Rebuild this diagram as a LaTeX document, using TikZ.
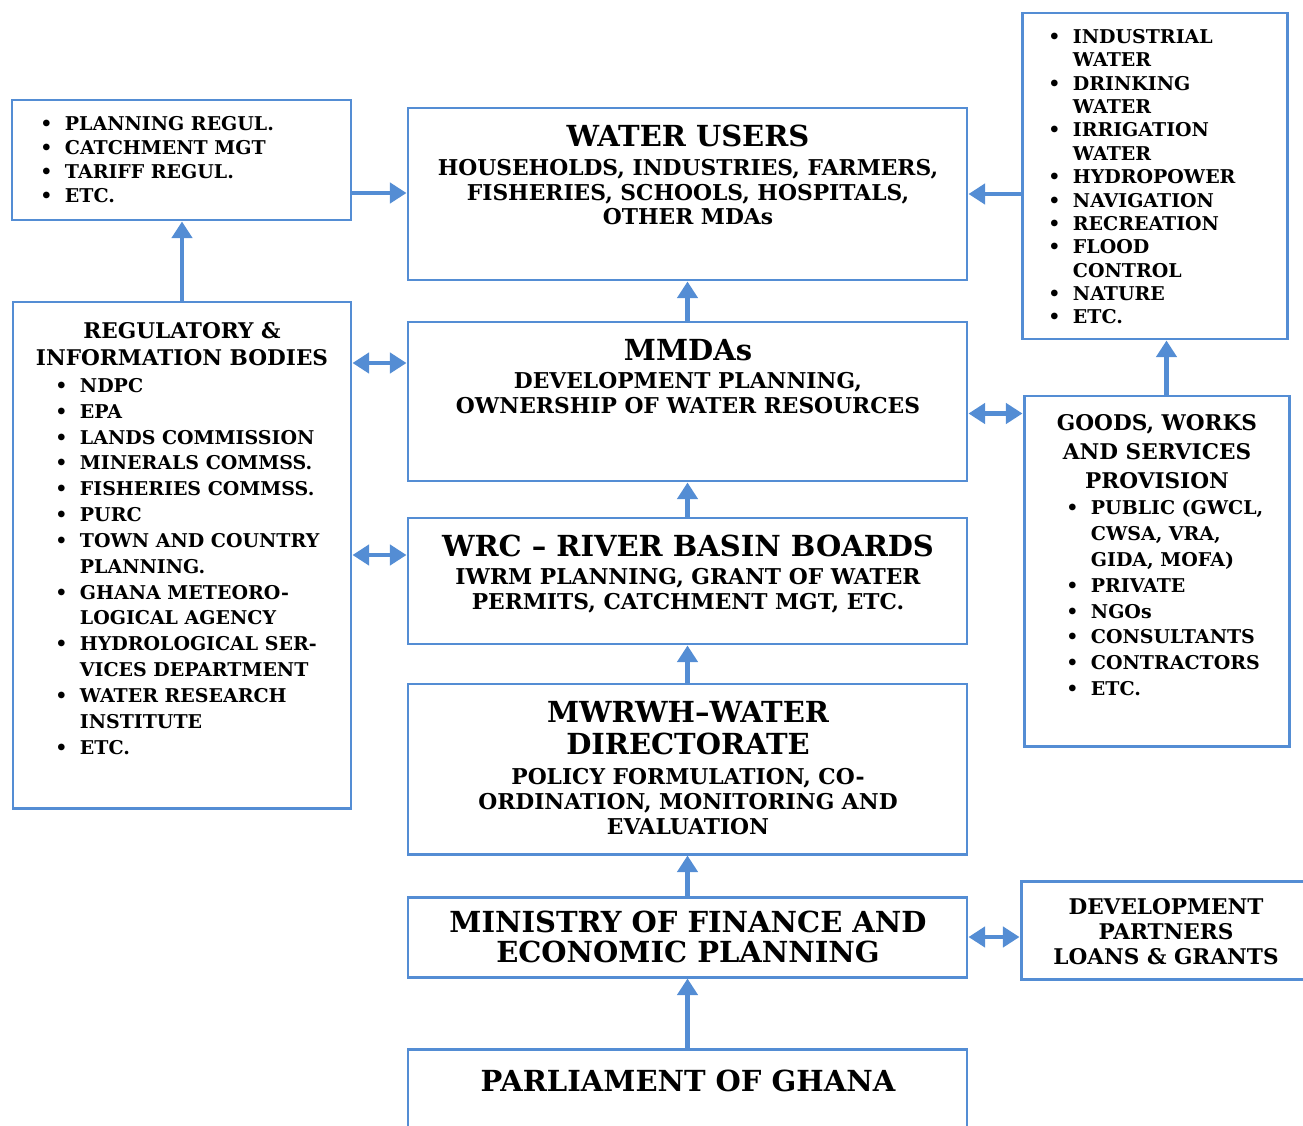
\documentclass[tikz,border=0pt]{standalone}
\usepackage{fontspec}
\setmainfont{DejaVu Serif}
\usetikzlibrary{arrows.meta,fit,calc}
\definecolor{boxblue}{RGB}{84,141,212}
\newcommand{\bul}{\makebox[14pt][l]{\textbullet}}
\newcommand{\ind}{\hspace*{14pt}}

\begin{document}
\begin{tikzpicture}[x=0.02cm,y=-0.02cm,
  >={Triangle[length=9.5pt,width=11.5pt]},
  box/.style={draw=boxblue,line width=1.7pt,inner sep=0pt},
  arr/.style={draw=boxblue,line width=2.8pt,->},
  both/.style={draw=boxblue,line width=2.8pt,<->},
  title/.style={font=\bfseries\fontsize{16.5}{18}\selectfont,align=center,inner sep=0pt,anchor=north},
  head/.style={font=\bfseries\fontsize{12.3}{15.3}\selectfont,align=center,inner sep=0pt,anchor=north},
  sub/.style={font=\bfseries\fontsize{12.4}{14}\selectfont,align=center,inner sep=0pt,anchor=north},
  list/.style={font=\bfseries\fontsize{10.8}{13.6}\selectfont,align=left,inner sep=0pt,anchor=north west}]
\useasboundingbox (0,0) rectangle (1303,1126);

% boxes
\node[box,fit={(12,100) (351,220)}] (plan) {};
\node[box,fit={(408,108) (967,280)}] (users) {};
\node[box,fit={(1022,13) (1287,339)}] (uses) {};
\node[box,fit={(13,302) (351,808)}] (reg) {};
\node[box,fit={(408,322) (967,481)}] (mmdas) {};
\node[box,fit={(1024,396) (1289,746)}] (goods) {};
\node[box,fit={(408,518) (967,644)}] (wrc) {};
\node[box,fit={(408,684) (967,854)}] (mwr) {};
\node[box,fit={(408,897) (967,977)}] (mofep) {};
\node[box,fit={(1021,881) (1330,979)}] (dev) {};
\node[box,fit={(408,1049) (967,1150)}] (parl) {};

% texts
\node[list] (plantxt) at (40,116) {\bul PLANNING REGUL.\\ \bul CATCHMENT MGT\\ \bul TARIFF REGUL.\\ \bul ETC.};
\node[title] (userstitle) at (688,125) {WATER USERS};
\node[sub] (usersbody) at (688,159) {HOUSEHOLDS, INDUSTRIES, FARMERS,\\ FISHERIES, SCHOOLS, HOSPITALS,\\ OTHER MDAs};
\node[list,font=\bfseries\fontsize{10.8}{13.3}\selectfont] (usestxt) at (1048,29) {\bul INDUSTRIAL\\ \ind WATER\\ \bul DRINKING\\ \ind WATER\\
  \bul IRRIGATION\\ \ind WATER\\ \bul HYDROPOWER\\ \bul NAVIGATION\\ \bul RECREATION\\ \bul FLOOD\\ \ind CONTROL\\ \bul NATURE\\ \bul ETC.};
\node[head] (reghead) at (182,322) {REGULATORY \&\\ INFORMATION BODIES};
\node[list,font=\bfseries\fontsize{10.8}{14.7}\selectfont] (regtxt) at (55,378) {\bul NDPC\\ \bul EPA\\ \bul LANDS COMMISSION\\ \bul MINERALS COMMSS.\\
  \bul FISHERIES COMMSS.\\ \bul PURC\\ \bul TOWN AND COUNTRY\\ \ind PLANNING.\\ \bul GHANA METEORO-\\ \ind LOGICAL AGENCY\\
  \bul HYDROLOGICAL SER-\\ \ind VICES DEPARTMENT\\ \bul WATER RESEARCH\\ \ind INSTITUTE\\ \bul ETC.};
\node[title] (mmdastitle) at (688,339) {MMDAs};
\node[sub,font=\bfseries\fontsize{12.4}{14.2}\selectfont] (mmdasbody) at (688,372) {DEVELOPMENT PLANNING,\\ OWNERSHIP OF WATER RESOURCES};
\node[head,font=\bfseries\fontsize{12.3}{16.4}\selectfont] (goodshead) at (1157,414) {GOODS, WORKS\\ AND SERVICES\\ PROVISION};
\node[list,font=\bfseries\fontsize{10.8}{14.7}\selectfont] (goodstxt) at (1066,500) {\bul PUBLIC (GWCL,\\ \ind CWSA, VRA,\\ \ind GIDA, MOFA)\\ \bul PRIVATE\\
  \bul NGOs\\ \bul CONSULTANTS\\ \bul CONTRACTORS\\ \bul ETC.};
\node[title] (wrctitle) at (688,535) {WRC -- RIVER BASIN BOARDS};
\node[sub,font=\bfseries\fontsize{12.4}{14.2}\selectfont] (wrcbody) at (688,568) {IWRM PLANNING, GRANT OF WATER\\ PERMITS, CATCHMENT MGT, ETC.};
\node[title] (mwrtitle) at (688,701) {MWRWH--WATER\\ DIRECTORATE};
\node[sub,font=\bfseries\fontsize{12.4}{14.2}\selectfont] (mwrbody) at (688,768) {POLICY FORMULATION, CO-\\ ORDINATION, MONITORING AND\\ EVALUATION};
\node[title,font=\bfseries\fontsize{16.5}{17}\selectfont] (mofeptxt) at (688,911) {MINISTRY OF FINANCE AND\\ ECONOMIC PLANNING};
\node[head,font=\bfseries\fontsize{12.3}{14.2}\selectfont] (devtxt) at (1166,898) {DEVELOPMENT\\ PARTNERS\\ LOANS \& GRANTS};
\node[title] (parltxt) at (688,1070) {PARLIAMENT OF GHANA};

% connectors
\draw[arr] (reg.north) -- (reg.north |- plan.south);
\draw[arr] ($(plan.east)+(0,33)$) coordinate (p1) -- (p1 -| users.west);
\draw[arr] (users.east -| uses.west) -- (users.east);
\draw[arr] (mmdas.north) -- (users.south);
\draw[both] ($(reg.east)+(0,-192)$) coordinate (r1) -- (r1 -| mmdas.west);
\draw[both] ($(reg.east)+(0,0)$) coordinate (r2) -- (r2 -| wrc.west);
\draw[both] ($(mmdas.east)+(0,12)$) coordinate (m1) -- (m1 -| goods.west);
\draw[arr] ($(goods.north)+(10,0)$) coordinate (g1) -- (g1 |- uses.south);
\draw[arr] (wrc.north) -- (mmdas.south);
\draw[arr] (mwr.north) -- (wrc.south);
\draw[arr] (mofep.north) -- (mwr.south);
\draw[arr] (parl.north) -- (mofep.south);
\draw[both] (mofep.east) -- (mofep.east -| dev.west);
\end{tikzpicture}
\end{document}
